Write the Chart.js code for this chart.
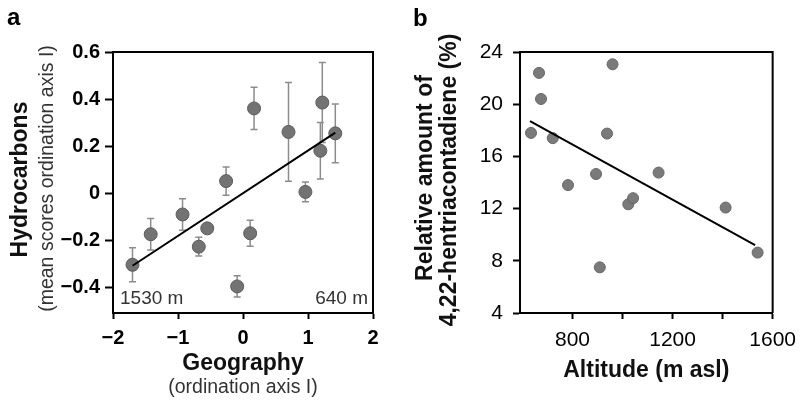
<!DOCTYPE html>
<html>
<head>
<meta charset="utf-8">
<script src="https://cdn.jsdelivr.net/npm/chart.js@4"></script>
<style>
  body { margin: 0; background: #fff; }
  #wrap { position: relative; width: 805px; height: 401px; }
  .panel { position: absolute; top: 0; }
  #pa { left: 0; }
  #pb { left: 400px; }
</style>
</head>
<body>
<div id="wrap">
  <div class="panel" id="pa"><canvas id="chartA" width="400" height="401"></canvas></div>
  <div class="panel" id="pb"><canvas id="chartB" width="405" height="401"></canvas></div>
</div>
<script>
// panel a: hydrocarbon scores vs geography (ordination axis I)
let geoX     = [-1.70, -1.42, -0.93, -0.68, -0.55, -0.26, -0.09, 0.11, 0.17, 0.70, 0.96, 1.19, 1.22, 1.42];
let hydroY   = [-0.305, -0.175, -0.091, -0.228, -0.150, 0.051, -0.397, -0.171, 0.360, 0.260, 0.005, 0.180, 0.385, 0.254];
let hydroErr = [0.072, 0.067, 0.067, 0.040, 0.020, 0.060, 0.045, 0.055, 0.090, 0.210, 0.042, 0.120, 0.170, 0.125];
let fitAX    = [-1.70, 1.42];
let fitAY    = [-0.309, 0.257];
let geoTicks   = [-2, -1, 0, 1, 2];
let hydroTicks = [-0.4, -0.2, 0, 0.2, 0.4, 0.6];

// panel b: relative amount of 4,22-hentriacontadiene vs altitude
let altX   = [634, 666, 674, 721, 782, 894, 909, 938, 960, 1023, 1042, 1144, 1412, 1540];
let relY   = [17.8, 22.4, 20.4, 17.4, 13.8, 14.65, 7.5, 17.75, 23.06, 12.33, 12.8, 14.76, 12.08, 8.63];
let fitBX  = [630, 1530];
let fitBY  = [18.7, 9.2];
let altTicks   = [800, 1000, 1200, 1400, 1600];
let altLabels  = [800, 1200, 1600];
let relTicks   = [4, 8, 12, 16, 20, 24];

const FONT = "'Liberation Sans', Arial, Helvetica, sans-serif";

function minus(v) {
  return v < 0 ? '\u2212' + Math.abs(v) : String(v);
}

function vText(ctx, text, x, y, font, color) {
  ctx.save();
  ctx.translate(x, y);
  ctx.rotate(-Math.PI / 2);
  ctx.font = font;
  ctx.fillStyle = color;
  ctx.textAlign = 'center';
  ctx.textBaseline = 'alphabetic';
  ctx.fillText(text, 0, 0);
  ctx.restore();
}

function hText(ctx, text, x, y, font, color, align) {
  ctx.save();
  ctx.font = font;
  ctx.fillStyle = color;
  ctx.textAlign = align || 'center';
  ctx.textBaseline = 'alphabetic';
  ctx.fillText(text, x, y);
  ctx.restore();
}

// box round the plot area (top and right sides)
const frame = {
  id: 'frame',
  afterDraw(chart) {
    const { ctx, chartArea: a } = chart;
    ctx.save();
    ctx.strokeStyle = '#000';
    ctx.lineWidth = 2;
    ctx.beginPath();
    ctx.moveTo(a.left, a.top);
    ctx.lineTo(a.right, a.top);
    ctx.lineTo(a.right, a.bottom);
    ctx.stroke();
    ctx.restore();
  }
};

const errorBars = {
  id: 'errorBars',
  beforeDatasetsDraw(chart) {
    const { ctx, scales: { x, y } } = chart;
    ctx.save();
    ctx.strokeStyle = '#8c8c8c';
    ctx.lineWidth = 1.5;
    geoX.forEach((gx, i) => {
      const px = x.getPixelForValue(gx);
      const top = y.getPixelForValue(hydroY[i] + hydroErr[i]);
      const bot = y.getPixelForValue(hydroY[i] - hydroErr[i]);
      ctx.beginPath();
      ctx.moveTo(px, top); ctx.lineTo(px, bot);
      ctx.moveTo(px - 3.5, top); ctx.lineTo(px + 3.5, top);
      ctx.moveTo(px - 3.5, bot); ctx.lineTo(px + 3.5, bot);
      ctx.stroke();
    });
    ctx.restore();
  }
};

const labelsA = {
  id: 'labelsA',
  afterDraw(chart) {
    const { ctx, chartArea: a } = chart;
    const cx = (a.left + a.right) / 2;
    const cy = (a.top + a.bottom) / 2;
    hText(ctx, 'a', 7, 25, 'bold 24px ' + FONT, '#000', 'left');
    vText(ctx, 'Hydrocarbons', 27, cy - 3, 'bold 23px ' + FONT, '#111');
    vText(ctx, '(mean scores ordination axis I)', 53, cy - 4, '19.5px ' + FONT, '#333');
    hText(ctx, 'Geography', cx, 370, 'bold 23px ' + FONT, '#111');
    hText(ctx, '(ordination axis I)', cx, 393, '19.5px ' + FONT, '#333');
    hText(ctx, '1530 m', a.left + 7, a.bottom - 9, '19px ' + FONT, '#333', 'left');
    hText(ctx, '640 m', a.right - 5, a.bottom - 9, '19px ' + FONT, '#333', 'right');
  }
};

const labelsB = {
  id: 'labelsB',
  afterDraw(chart) {
    const { ctx, chartArea: a } = chart;
    const cx = (a.left + a.right) / 2;
    hText(ctx, 'b', 13, 26, 'bold 24px ' + FONT, '#000', 'left');
    vText(ctx, 'Relative amount of', 32, 178, 'bold 23px ' + FONT, '#111');
    vText(ctx, '4,22-hentriacontadiene (%)', 56, 180, 'bold 23px ' + FONT, '#111');
    hText(ctx, 'Altitude (m asl)', cx, 377, 'bold 23px ' + FONT, '#111');
  }
};

function axisCommon(tickLen) {
  return {
    border: { display: true, color: '#000', width: 2 },
    grid: { drawOnChartArea: false, drawTicks: true, tickLength: tickLen, tickWidth: 2, tickColor: '#000' }
  };
}

let ctxA = document.getElementById('chartA').getContext('2d');
let chartA = new Chart(ctxA, {
  type: 'scatter',
  data: {
    datasets: [{
      type: 'line',
      data: fitAX.map((v, i) => ({ x: v, y: fitAY[i] })),
      borderColor: '#000',
      borderWidth: 2,
      pointRadius: 0,
      fill: false
    }, {
      data: geoX.map((v, i) => ({ x: v, y: hydroY[i] })),
      backgroundColor: '#737373',
      borderColor: '#5c5c5c',
      borderWidth: 1,
      pointRadius: 6.5
    }]
  },
  options: {
    responsive: false,
    animation: false,
    layout: { padding: { left: 0, top: 52, right: 27, bottom: 0 } },
    plugins: { legend: { display: false }, tooltip: { enabled: false } },
    scales: {
      x: {
        type: 'linear', min: -2, max: 2,
        ...axisCommon(6),
        afterBuildTicks: s => { s.ticks = geoTicks.map(v => ({ value: v })); },
        afterFit: s => { s.height = 88; },
        ticks: { color: '#000', font: { family: FONT, size: 20, weight: 'bold' }, padding: 7, maxRotation: 0, autoSkip: false,
          callback: v => minus(v) }
      },
      y: {
        type: 'linear', min: -0.51, max: 0.6,
        ...axisCommon(8),
        afterBuildTicks: s => { s.ticks = hydroTicks.map(v => ({ value: v })); },
        afterFit: s => { s.width = 113; },
        ticks: { color: '#000', font: { family: FONT, size: 20, weight: 'bold' }, padding: 5, autoSkip: false,
          callback: v => v === 0 ? '0' : (v < 0 ? '\u2212' : '') + Math.abs(v).toFixed(1) }
      }
    }
  },
  plugins: [errorBars, frame, labelsA]
});

let ctxB = document.getElementById('chartB').getContext('2d');
let chartB = new Chart(ctxB, {
  type: 'scatter',
  data: {
    datasets: [{
      type: 'line',
      data: fitBX.map((v, i) => ({ x: v, y: fitBY[i] })),
      borderColor: '#000',
      borderWidth: 2,
      pointRadius: 0,
      fill: false
    }, {
      data: altX.map((v, i) => ({ x: v, y: relY[i] })),
      backgroundColor: '#7a7a7a',
      borderColor: '#666',
      borderWidth: 1,
      pointRadius: 5.5
    }]
  },
  options: {
    responsive: false,
    animation: false,
    layout: { padding: { left: 0, top: 52, right: 26, bottom: 0 } },
    plugins: { legend: { display: false }, tooltip: { enabled: false } },
    scales: {
      x: {
        type: 'linear', min: 590, max: 1600,
        ...axisCommon(6),
        afterBuildTicks: s => { s.ticks = altTicks.map(v => ({ value: v })); },
        afterFit: s => { s.height = 88; },
        ticks: { color: '#000', font: { family: FONT, size: 21 }, padding: 9, maxRotation: 0, autoSkip: false,
          callback: v => altLabels.includes(v) ? String(v) : '' }
      },
      y: {
        type: 'linear', min: 4, max: 24,
        ...axisCommon(7),
        afterBuildTicks: s => { s.ticks = relTicks.map(v => ({ value: v })); },
        afterFit: s => { s.width = 120; },
        ticks: { color: '#000', font: { family: FONT, size: 21 }, padding: 10, autoSkip: false }
      }
    }
  },
  plugins: [frame, labelsB]
});
</script>
</body>
</html>
